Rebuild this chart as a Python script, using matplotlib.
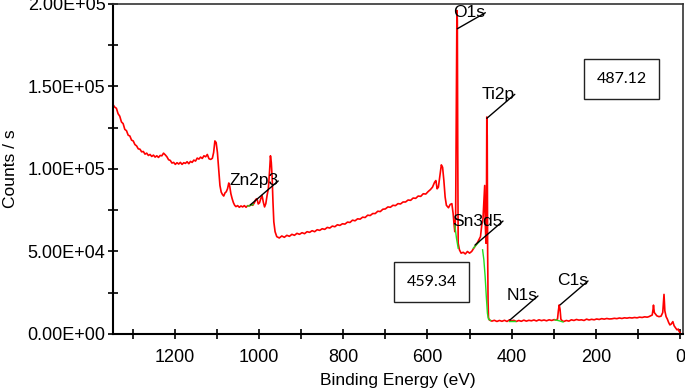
import matplotlib
matplotlib.use('Agg')
import matplotlib.pyplot as plt
from matplotlib.patches import Rectangle
from matplotlib.ticker import MultipleLocator, FuncFormatter

plt.rcParams['font.family'] = ['Liberation Sans', 'DejaVu Sans']

# survey spectrum, in pieces (binding energy eV, counts in thousands)
e_high = [1347, 1343, 1339, 1335, 1331, 1327, 1323, 1319, 1315, 1311, 1307, 1303, 1299, 1295,
          1291, 1287, 1283, 1279, 1275, 1271, 1267, 1263, 1259, 1255, 1251, 1247, 1243, 1239,
          1235, 1231, 1227, 1223, 1219, 1215, 1211, 1207, 1203, 1199, 1195, 1191, 1187, 1183,
          1179, 1175, 1171, 1167, 1163, 1159, 1155, 1151, 1147, 1143, 1139, 1135, 1131, 1127,
          1123, 1119, 1115, 1111, 1108, 1105, 1102, 1099, 1096]
c_high = [139, 137.5, 136.8, 133.5, 132, 128.5, 127.5, 124, 123.2, 120.5, 120, 117.5, 117, 114.8,
          114, 112.2, 112, 110.4, 110.6, 109, 109.6, 108.2, 108.8, 107.6, 108.4, 107.2, 108, 107,
          108.2, 108, 109.6, 108.6, 107.4, 105.6, 105.2, 103.6, 104, 102.8, 103.8, 103, 104, 102.8,
          103.8, 103.4, 104.4, 103.2, 104.6, 104, 105.4, 104.8, 106.6, 106, 107.2, 106.4, 108, 107.4,
          108.8, 106.2, 105.8, 106.5, 110, 117, 116, 110, 100]

e_zn = [1093, 1090, 1087, 1084, 1081, 1078, 1075, 1072, 1070, 1067, 1064, 1061, 1058, 1055,
        1051, 1047, 1043, 1039, 1035, 1031, 1027, 1023, 1019, 1015, 1011, 1008, 1005, 1002,
        999, 996, 993, 990, 987, 984, 981, 978, 975, 973, 971, 969, 967, 965, 962]
c_zn = [90, 86, 84.5, 83.6, 85.5, 86.2, 88, 91.5, 90, 85, 82, 79.6, 78, 77.2,
        77.8, 76.8, 77.6, 77, 77.8, 76.8, 77.8, 77.6, 78.4, 78, 79.6, 81.5, 82, 78.8,
        79.5, 82, 84, 80, 77, 79, 84, 88, 99, 108, 104, 95, 80, 68, 62]

e_mid = [958, 952, 946, 940, 934, 928, 922, 916, 910, 904, 898, 892, 886, 880, 874, 868,
         862, 856, 850, 844, 838, 832, 826, 820, 814, 808, 802, 796, 790, 784, 778, 772,
         766, 760, 754, 748, 742, 736, 730, 724, 718, 712, 706, 700, 694, 688, 682, 676,
         670, 664, 658, 652, 646, 640, 634, 628, 622, 616, 610, 604, 598, 593]
c_mid = [59, 58.2, 59.4, 58.6, 59.8, 59.2, 60.4, 59.8, 61, 60.4, 61.4, 60.8, 62, 61.6, 62.6, 62,
         63.2, 62.8, 63.8, 63.4, 64.6, 64.2, 65.4, 65, 66.2, 65.8, 66.8, 66.6, 67.8, 67.6, 69, 68.6,
         69.8, 69.6, 70.8, 70.6, 72, 71.8, 73, 73, 74.4, 74.2, 75.6, 75.8, 77, 76.8, 78, 77.8,
         79, 78.8, 80, 80, 81.2, 81, 82.4, 82.2, 83.6, 83.4, 85, 84.8, 86.4, 87.5]

e_peaks = [588, 583, 580, 577, 574, 570, 567, 564, 561, 558, 555, 550, 546, 542, 539, 537,
           535, 533, 531, 530, 529, 528, 527, 524, 520, 515, 510, 505, 500, 495, 490, 486,
           482, 478, 474, 471, 468, 466, 464, 463, 461, 460, 459, 458, 457, 456, 455]
c_peaks = [89, 92, 93, 88, 89, 97, 102.5, 101, 93, 83, 78, 76.5, 78.5, 79, 73, 67,
           62, 72, 150, 196, 190, 110, 55, 51, 49, 49.5, 48.5, 50, 49, 50, 52, 53.5,
           55, 57, 59, 66, 70, 80, 90, 70, 55, 65, 131.5, 120, 50, 20, 10]

e_low = [453, 447, 441, 435, 429, 423, 417, 411, 405, 401, 395, 389, 383, 377, 371, 365,
         359, 353, 347, 341, 335, 329, 323, 317, 311, 305, 299, 295, 291, 289, 287, 285,
         283, 280, 276, 270, 264, 258, 252, 246, 240, 234, 228, 222, 216, 210, 204, 198,
         192, 186, 180, 174, 168, 162, 156, 150, 144, 138, 132, 126, 120, 114, 108, 102,
         96, 90, 84, 78, 74, 70, 66, 64, 63, 61, 58, 55, 50, 45, 41, 39, 38, 36, 33, 30,
         27, 24, 21, 17, 14, 10, 7, 4, 2, 0]
c_low = [8.5, 7.8, 8.3, 7.6, 8.2, 7.7, 8.3, 7.6, 8.6, 7.9, 8.3, 7.6, 8.2, 7.7, 8.4, 7.8,
         8.3, 8, 8.5, 7.9, 8.6, 8.1, 8.5, 8, 8.6, 8.2, 8.7, 8.5, 9, 14, 17.6, 15,
         9, 8, 7.6, 8.2, 7.8, 8.6, 8.2, 8.8, 8.4, 8.6, 8.2, 9, 8.5, 8.9, 8.6, 9.1,
         8.8, 9.3, 9, 9.4, 9.1, 9.2, 9.5, 9.3, 9.7, 9.4, 9.8, 9.6, 9.9, 9.7, 10, 9.8,
         10.2, 10, 10.4, 10.2, 10.5, 11, 11.5, 15, 17.5, 13, 12, 11, 10.5, 10.8, 13, 20,
         24, 14, 10.5, 9, 7, 5.5, 6, 7.5, 5, 3.5, 2.5, 3, 1.5, 1]

# background fits under the peaks (green)
bg_zn_e = [1027, 1020, 1014]
bg_zn_c = [77.5, 78, 78.5]
bg_o_e = [535, 531, 527]
bg_o_c = [66, 58, 52]
bg_sn_e = [491, 484, 477]
bg_sn_c = [52, 54, 56]
bg_ti_e = [469, 466, 463, 460, 457.5, 455, 450]
bg_ti_c = [51, 45, 35, 22, 12.5, 9, 8.2]
bg_n_e = [406, 398, 392]
bg_n_c = [8, 8, 8]
bg_c_e = [297, 287, 278]
bg_c_c = [8.6, 8, 7.3]

# peak labels
peak_names = ['O1s', 'Ti2p', 'Sn3d5', 'N1s', 'C1s', 'Zn2p3']
peak_e = [529, 459, 487, 404, 285, 1021]
peak_c = [185, 130.7, 53.9, 8.5, 17.6, 78.2]

box_values = ['487.12', '459.34']

energy = e_high + e_zn + e_mid + e_peaks + e_low
counts = [c * 1000 for c in c_high + c_zn + c_mid + c_peaks + c_low]

fig = plt.figure(figsize=(6.85, 3.91), dpi=100)
ax = fig.add_axes([0.165, 0.1458, 0.832, 0.844])

ax.plot(energy, counts, color='#ff0000', lw=1.2)
for e, c in [(bg_zn_e, bg_zn_c), (bg_o_e, bg_o_c), (bg_sn_e, bg_sn_c),
             (bg_ti_e, bg_ti_c), (bg_n_e, bg_n_c), (bg_c_e, bg_c_c)]:
    ax.plot(e, [v * 1000 for v in c], color='#22dd22', lw=1.0)

for name, e, c in zip(peak_names, peak_e, peak_c):
    off = (28, 16) if name == 'O1s' else (28, 24)
    ax.annotate(name, xy=(e, c * 1000), xytext=off, textcoords='offset pixels',
                ha='right', va='center', fontsize=12.5,
                arrowprops=dict(arrowstyle='-', color='black', lw=1.0, relpos=(1.0, 0.5),
                                patchA=None, shrinkA=0, shrinkB=0))

# value boxes (axes fraction)
for val, (x0, y0, w, h) in zip(box_values, [(0.827, 0.712, 0.131, 0.12),
                                            (0.4935, 0.098, 0.131, 0.119)]):
    ax.add_patch(Rectangle((x0, y0), w, h, transform=ax.transAxes, fill=False,
                           edgecolor='#222222', lw=1.0))
    ax.text(x0 + w / 2, y0 + h / 2, val, transform=ax.transAxes, ha='center', va='center',
            fontsize=11.5, family=['Lato', 'DejaVu Sans'])

ax.set_xlim(1347, -7)
ax.set_ylim(0, 200000)
ax.xaxis.set_major_locator(MultipleLocator(200))
ax.xaxis.set_minor_locator(MultipleLocator(100))
ax.yaxis.set_major_locator(MultipleLocator(50000))
ax.yaxis.set_minor_locator(MultipleLocator(25000))
ax.yaxis.set_major_formatter(FuncFormatter(lambda v, p: f'{v:.2E}'))
ax.tick_params(which='both', direction='inout', length=7, width=1.2, labelsize=13)
ax.tick_params(axis='x', pad=7)
ax.tick_params(axis='y', pad=2)

for s in ['left', 'bottom']:
    ax.spines[s].set_linewidth(1.5)
for s in ['top', 'right']:
    ax.spines[s].set_linewidth(1.2)
    ax.spines[s].set_color('#333333')

ax.set_xlabel('Binding Energy (eV)', fontsize=12.5, labelpad=5)
ax.set_ylabel('Counts / s', fontsize=12.5, labelpad=7)

fig.savefig('out.png', dpi=100)
